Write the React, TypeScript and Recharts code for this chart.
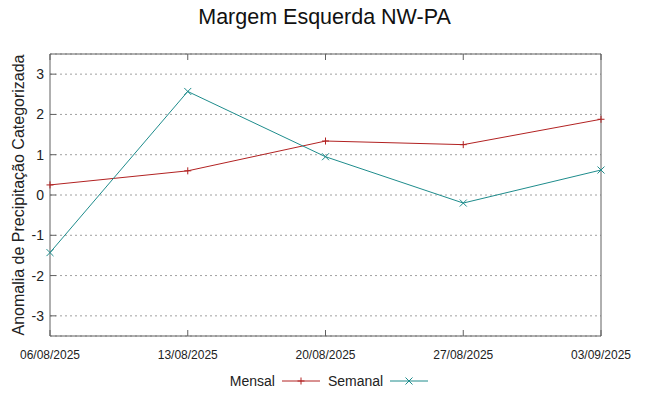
import { LineChart, Line, XAxis, YAxis, CartesianGrid } from "recharts";

// dates on the x axis
const dates = ["06/08/2025", "13/08/2025", "20/08/2025", "27/08/2025", "03/09/2025"];

// series values
const mensal = [0.25, 0.6, 1.34, 1.25, 1.88];
const semanal = [-1.43, 2.57, 0.95, -0.2, 0.62];

const yTicks = [-3, -2, -1, 0, 1, 2, 3];

const series = [
  { key: "mensal", name: "Mensal", color: "#b22222", marker: "plus" },
  { key: "semanal", name: "Semanal", color: "#1e8c8c", marker: "cross" },
];

const data = dates.map((date, i) => ({ date, mensal: mensal[i], semanal: semanal[i] }));

const font = "'Liberation Sans', Arial, sans-serif";

function Marker({ cx, cy, color, type }: { cx?: number; cy?: number; color: string; type: string }) {
  if (cx == null || cy == null) return null;
  const s = 3.5;
  if (type === "plus") {
    return (
      <g stroke={color} strokeWidth={1}>
        <line x1={cx - s} y1={cy} x2={cx + s} y2={cy} />
        <line x1={cx} y1={cy - s} x2={cx} y2={cy + s} />
      </g>
    );
  }
  return (
    <g stroke={color} strokeWidth={1}>
      <line x1={cx - s} y1={cy - s} x2={cx + s} y2={cy + s} />
      <line x1={cx - s} y1={cy + s} x2={cx + s} y2={cy - s} />
    </g>
  );
}

export default function App() {
  return (
    <div style={{ position: "absolute", left: 0, top: 0, width: 649, height: 396, background: "#fff", fontFamily: font }}>
      <div style={{ position: "absolute", left: 0, top: 5, width: 649, textAlign: "center", fontSize: 21.5, color: "#111" }}>
        Margem Esquerda NW-PA
      </div>

      <LineChart width={649} height={396} data={data} margin={{ top: 44, right: 40, bottom: 30, left: 0 }}>
        <CartesianGrid vertical={false} stroke="#a0a0a0" strokeDasharray="2 3" />
        <XAxis
          dataKey="date"
          height={30}
          stroke="#606060"
          tickSize={-6}
          tickMargin={20}
          interval={0}
          tick={{ fontSize: 12, fill: "#222", fontFamily: font }}
        />
        <XAxis
          xAxisId="top"
          dataKey="date"
          orientation="top"
          height={10}
          stroke="#606060"
          tickSize={-6}
          interval={0}
          tick={() => <g />}
        />
        <YAxis
          domain={[-3.5, 3.5]}
          ticks={yTicks}
          width={50}
          stroke="#606060"
          tickSize={-6}
          tickMargin={12}
          tick={{ fontSize: 14, fill: "#222", fontFamily: font }}
          label={{
            value: "Anomalia de Precipitação Categorizada",
            angle: -90,
            position: "center",
            dx: -7,
            style: { fontSize: 16, fill: "#222", fontFamily: font },
          }}
        />
        <YAxis
          yAxisId="right"
          orientation="right"
          domain={[-3.5, 3.5]}
          ticks={yTicks}
          width={8}
          stroke="#606060"
          tickSize={-6}
          tick={() => <g />}
        />
        {series.map((s) => (
          <Line
            key={s.key}
            dataKey={s.key}
            name={s.name}
            type="linear"
            stroke={s.color}
            strokeWidth={1}
            isAnimationActive={false}
            dot={(p: any) => <Marker key={p.index} cx={p.cx} cy={p.cy} color={s.color} type={s.marker} />}
            activeDot={false}
          />
        ))}
      </LineChart>

      <div style={{ position: "absolute", left: 0, top: 373, width: 649, display: "flex", justifyContent: "center", alignItems: "center", fontSize: 14, color: "#222" }}>
        <div style={{ display: "flex", alignItems: "center", marginLeft: 17 }}>
          {series.map((s) => (
            <div key={s.key} style={{ display: "flex", alignItems: "center", marginRight: 8 }}>
              <span>{s.name}</span>
              <svg width={38} height={10} style={{ marginLeft: 7 }}>
                <line x1={0} y1={5} x2={38} y2={5} stroke={s.color} strokeWidth={1} />
                <Marker cx={19} cy={5} color={s.color} type={s.marker} />
              </svg>
            </div>
          ))}
        </div>
      </div>
    </div>
  );
}
